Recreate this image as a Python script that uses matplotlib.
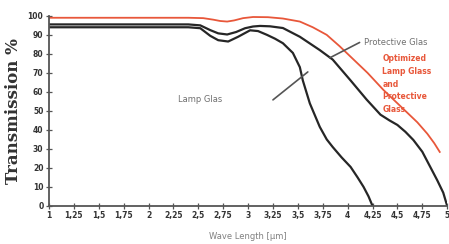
import matplotlib
matplotlib.use("Agg")
import matplotlib.pyplot as plt

# curves (wavelength in um, transmission in %)
opt_x = [1.0, 1.5, 2.0, 2.4, 2.55, 2.65, 2.72, 2.79, 2.86, 2.95, 3.05, 3.2, 3.35, 3.52,
         3.65, 3.79, 3.92, 4.06, 4.2, 4.36, 4.48, 4.6, 4.7, 4.8, 4.87, 4.93]
opt_y = [99, 99, 99, 99, 98.8, 98, 97.3, 97, 97.6, 98.8, 99.4, 99.3, 98.6, 97,
         94, 90, 84, 77, 70, 61, 55, 49, 44, 38, 33, 28]

prot_x = [1.0, 1.5, 2.0, 2.4, 2.52, 2.62, 2.7, 2.79, 2.88, 2.97, 3.05, 3.12, 3.22, 3.35,
          3.52, 3.72, 3.85, 4.03, 4.19, 4.33, 4.42, 4.5, 4.58, 4.66, 4.75, 4.83, 4.9,
          4.96, 5.0]
prot_y = [95.5, 95.5, 95.5, 95.5, 95, 92.5, 90.8, 90.2, 91.5, 93.5, 94.4, 94.7, 94.5, 93.6,
          89, 82, 77, 66, 56, 48, 45, 42.6, 39, 34.7, 28.5, 20.5, 13.5, 7, 0]

lamp_x = [1.0, 1.5, 2.0, 2.4, 2.52, 2.62, 2.7, 2.8, 2.9, 3.02, 3.1, 3.19, 3.27, 3.35,
          3.45, 3.52, 3.55, 3.62, 3.72, 3.79, 3.85, 3.94, 4.03, 4.1, 4.16, 4.21, 4.25]
lamp_y = [94, 94, 94, 94, 93.5, 89.5, 87.2, 86.5, 89, 92.4, 92, 90, 88, 85.6,
          80.5, 73, 66, 54, 41.6, 35, 31, 25.5, 20.5, 15, 10, 5, 0]

xticks = [1 + 0.25 * i for i in range(17)]
xtick_labels = ["1", "1,25", "1,5", "1,75", "2", "2,25", "2,5", "2,75", "3", "3,25",
                "3,5", "3,75", "4", "4,25", "4,5", "4,75", "5"]
yticks = list(range(0, 101, 10))

RED = "#e8573a"
BLACK = "#262626"
GREY = "#555555"

fig = plt.figure(figsize=(4.49, 2.44), dpi=100)
ax = fig.add_axes([0.109, 0.156, 0.887, 0.779])

ax.plot(opt_x, opt_y, color=RED, lw=1.3, solid_capstyle="butt")
ax.plot(prot_x, prot_y, color=BLACK, lw=1.6, solid_capstyle="butt")
ax.plot(lamp_x, lamp_y, color=BLACK, lw=1.6, solid_capstyle="butt")

ax.set_xlim(1, 5)
ax.set_ylim(0, 100)
ax.set_xticks(xticks)
ax.set_xticklabels(xtick_labels)
ax.set_yticks(yticks)
for s in ["top", "right"]:
    ax.spines[s].set_visible(False)
for s in ["left", "bottom"]:
    ax.spines[s].set_color(GREY)
    ax.spines[s].set_linewidth(1.3)
ax.tick_params(direction="inout", length=4, width=0.9, color=GREY,
               labelsize=5.5, labelcolor="#333333", pad=2)
for lab in ax.get_xticklabels() + ax.get_yticklabels():
    lab.set_fontweight("bold")

ax.set_ylabel("Transmission %", fontsize=12, fontweight="bold",
              family="DejaVu Serif", color="#333333", labelpad=4)
ax.set_xlabel("Wave Length [\u00b5m]", fontsize=6, color="#808080", labelpad=8)

# annotations
ax.annotate("", xy=(3.82, 77.9), xytext=(4.12, 86),
            arrowprops=dict(arrowstyle="-", color="#555555", lw=1.2,
                            shrinkA=0, shrinkB=0))
ax.text(4.16, 85.8, "Protective Glas", fontsize=6, color="#707070",
        va="center", ha="left")
ax.annotate("", xy=(3.6, 70.5), xytext=(3.25, 55.8),
            arrowprops=dict(arrowstyle="-", color="#555555", lw=1.2,
                            shrinkA=0, shrinkB=0))
ax.text(2.3, 55.8, "Lamp Glas", fontsize=6, color="#707070",
        va="center", ha="left")
ax.text(4.35, 80, "Optimized\nLamp Glass\nand\nProtective\nGlass", fontsize=5.5,
        color=RED, fontweight="bold", va="top", ha="left", linespacing=1.55)

fig.savefig("out.png", dpi=100)
